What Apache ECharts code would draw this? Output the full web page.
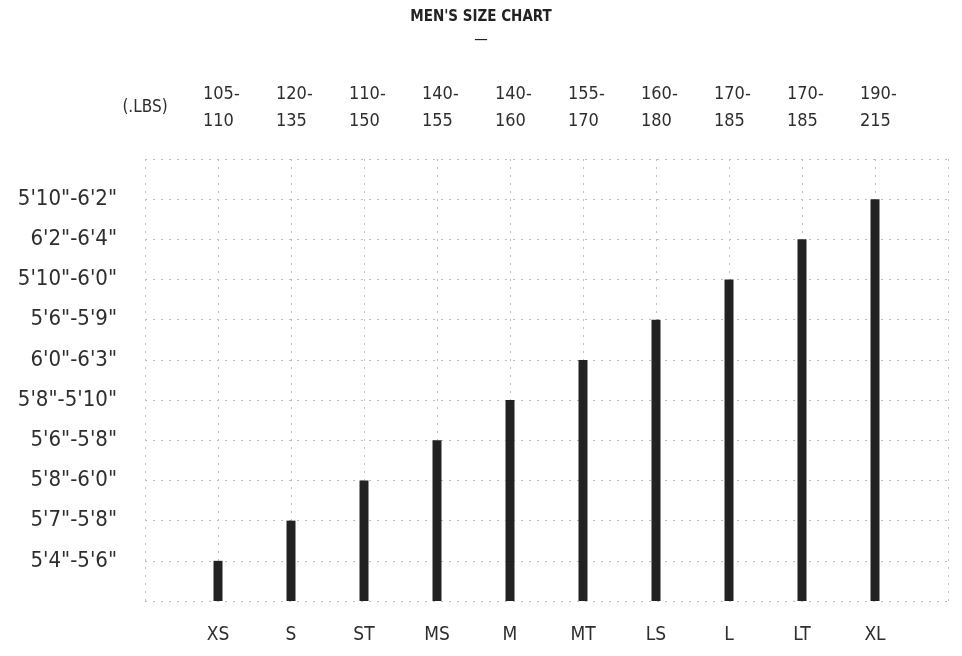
<!DOCTYPE html>
<html>
<head>
<meta charset="utf-8">
<title>Men's Size Chart</title>
<script src="https://cdn.jsdelivr.net/npm/echarts@6/dist/echarts.min.js"></script>
<style>
  html, body { margin: 0; padding: 0; background: #fff; }
  #main { width: 962px; height: 656px; }
</style>
</head>
<body>
<div id="main"></div>
<script>
// sizes along the bottom, weight ranges along the top
var sizes = ['XS', 'S', 'ST', 'MS', 'M', 'MT', 'LS', 'L', 'LT', 'XL'];
var weights = ['105-110', '120-135', '110-150', '140-155', '140-160', '155-170', '160-180', '170-185', '170-185', '190-215'];
// height ranges, bottom to top (tick labels of the value axis)
var heights = ['5\'4"-5\'6"', '5\'7"-5\'8"', '5\'8"-6\'0"', '5\'6"-5\'8"', '5\'8"-5\'10"',
               '6\'0"-6\'3"', '5\'6"-5\'9"', '5\'10"-6\'0"', '6\'2"-6\'4"', '5\'10"-6\'2"'];
// bar level for each size (index into heights, 1-based)
var levels = [1, 2, 3, 4, 5, 6, 7, 8, 9, 10];

var font = "'Liberation Sans Narrow', 'DejaVu Sans Condensed', sans-serif";
var textColor = '#2e2e2e';
var gridLine = { show: true, lineStyle: { color: '#bdbdbd', width: 1, type: [2, 6] } };

// pad one empty slot each side so the ticks land on the bars
var bottomCats = [''].concat(sizes, ['']);
var topCats = ['(.LBS)'].concat(weights, ['']);
var barData = ['-'].concat(levels, ['-']);

var myChart = echarts.init(document.getElementById('main'));

var option = {
    animation: false,
    backgroundColor: '#fff',
    title: {
        text: "MEN'S SIZE CHART",
        subtext: '—',
        left: 'center',
        top: 5,
        itemGap: 8,
        textStyle: { fontFamily: font, fontSize: 15, fontWeight: 'bold', color: '#222' },
        subtextStyle: { fontFamily: font, fontSize: 15, color: '#222' }
    },
    grid: { left: 145, right: 14, top: 159, bottom: 55 },
    xAxis: [{
        type: 'category',
        data: bottomCats,
        boundaryGap: false,
        position: 'bottom',
        axisLine: { show: false },
        axisTick: { show: false },
        splitLine: gridLine,
        axisLabel: {
            interval: 0,
            margin: 25,
            fontFamily: font,
            fontSize: 19,
            color: textColor
        }
    }, {
        type: 'category',
        data: topCats,
        boundaryGap: false,
        position: 'top',
        axisLine: { show: false },
        axisTick: { show: false },
        splitLine: { show: false },
        axisLabel: {
            interval: 0,
            margin: 24,
            fontFamily: font,
            fontSize: 18,
            color: textColor,
            formatter: function (v) {
                if (!v) return '';
                if (v.indexOf('-') < 0) return '{u|' + v + '}';
                var p = v.split('-');
                return '{w|' + p[0] + '-}\n{w|' + p[1] + '}';
            },
            rich: {
                w: { width: 30, align: 'left', lineHeight: 27, fontFamily: font, fontSize: 18, color: textColor },
                u: { lineHeight: 54, fontFamily: font, fontSize: 17, color: textColor }
            }
        }
    }],
    yAxis: {
        type: 'value',
        min: 0,
        max: 11,
        interval: 1,
        axisLine: { show: false },
        axisTick: { show: false },
        splitLine: gridLine,
        axisLabel: {
            margin: 28,
            fontFamily: font,
            fontSize: 22,
            color: textColor,
            formatter: function (v) {
                return heights[v - 1] || '';
            }
        }
    },
    series: [{
        type: 'bar',
        xAxisIndex: 0,
        data: barData,
        barWidth: 9,
        itemStyle: { color: '#222' }
    }]
};

myChart.setOption(option);
window.onresize = function () {
    myChart.resize();
};
</script>
</body>
</html>
